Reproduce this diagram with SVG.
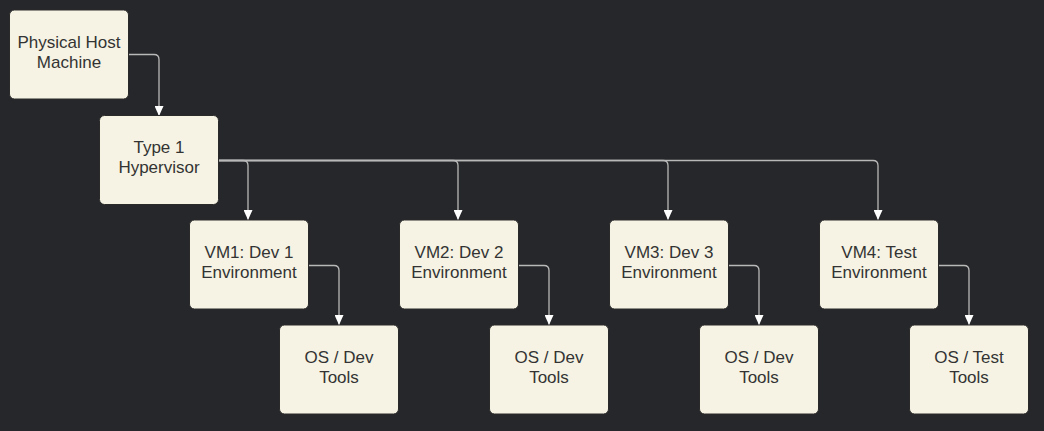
<svg xmlns="http://www.w3.org/2000/svg" width="1044" height="431" viewBox="0 0 1044 431">
<style>
.node rect{fill:#f6f3e4;stroke:#2a2a2a;stroke-width:1}
.node text{font-family:"Liberation Sans",Arial,sans-serif;font-size:17px;fill:#333;text-anchor:middle}
.edge{fill:none;stroke:#b8b8b8;stroke-width:1.3}
</style>
<defs>
<marker id="arr" viewBox="0 0 10 10" refX="10" refY="5" markerWidth="10" markerHeight="9" markerUnits="userSpaceOnUse" orient="auto" preserveAspectRatio="none">
<path d="M0,0 L10,5 L0,10 z" fill="#ffffff"/>
</marker>
</defs>
<rect width="1044" height="431" fill="#26272a"/>
<g id="connectors">
<path class="edge" d="M128,54.5 H154 Q159,54.5 159,59.5 V116" marker-end="url(#arr)"/>
<path class="edge" d="M218,160.5 H243 Q248,160.5 248,165.5 V220" marker-end="url(#arr)"/>
<path class="edge" d="M218,160.5 H453 Q458,160.5 458,165.5 V220" marker-end="url(#arr)"/>
<path class="edge" d="M218,160.5 H663 Q668,160.5 668,165.5 V220" marker-end="url(#arr)"/>
<path class="edge" d="M218,160.5 H873 Q878,160.5 878,165.5 V220" marker-end="url(#arr)"/>
<path class="edge" d="M308,265.5 H334 Q339,265.5 339,270.5 V325" marker-end="url(#arr)"/>
<path class="edge" d="M518,265.5 H544 Q549,265.5 549,270.5 V325" marker-end="url(#arr)"/>
<path class="edge" d="M728,265.5 H754 Q759,265.5 759,270.5 V325" marker-end="url(#arr)"/>
<path class="edge" d="M938,265.5 H964 Q969,265.5 969,270.5 V325" marker-end="url(#arr)"/>
</g>
<g id="host" class="node"><rect x="9.5" y="10" width="119" height="89" rx="5"/><text x="69" y="48">Physical Host</text><text x="69" y="68">Machine</text></g>
<g id="hypervisor" class="node"><rect x="99.5" y="115.5" width="119" height="89" rx="5"/><text x="159" y="153">Type 1</text><text x="159" y="173">Hypervisor</text></g>
<g id="vm1" class="node"><rect x="189.5" y="220" width="119" height="89" rx="5"/><text x="249" y="258">VM1: Dev 1</text><text x="249" y="278">Environment</text></g>
<g id="vm2" class="node"><rect x="399.5" y="220" width="119" height="89" rx="5"/><text x="459" y="258">VM2: Dev 2</text><text x="459" y="278">Environment</text></g>
<g id="vm3" class="node"><rect x="609.5" y="220" width="119" height="89" rx="5"/><text x="669" y="258">VM3: Dev 3</text><text x="669" y="278">Environment</text></g>
<g id="vm4" class="node"><rect x="819.5" y="220" width="119" height="89" rx="5"/><text x="879" y="258">VM4: Test</text><text x="879" y="278">Environment</text></g>
<g id="os1" class="node"><rect x="279.5" y="325" width="119" height="89" rx="5"/><text x="339" y="363">OS / Dev</text><text x="339" y="383">Tools</text></g>
<g id="os2" class="node"><rect x="489.5" y="325" width="119" height="89" rx="5"/><text x="549" y="363">OS / Dev</text><text x="549" y="383">Tools</text></g>
<g id="os3" class="node"><rect x="699.5" y="325" width="119" height="89" rx="5"/><text x="759" y="363">OS / Dev</text><text x="759" y="383">Tools</text></g>
<g id="os4" class="node"><rect x="909.5" y="325" width="119" height="89" rx="5"/><text x="969" y="363">OS / Test</text><text x="969" y="383">Tools</text></g>
</svg>
